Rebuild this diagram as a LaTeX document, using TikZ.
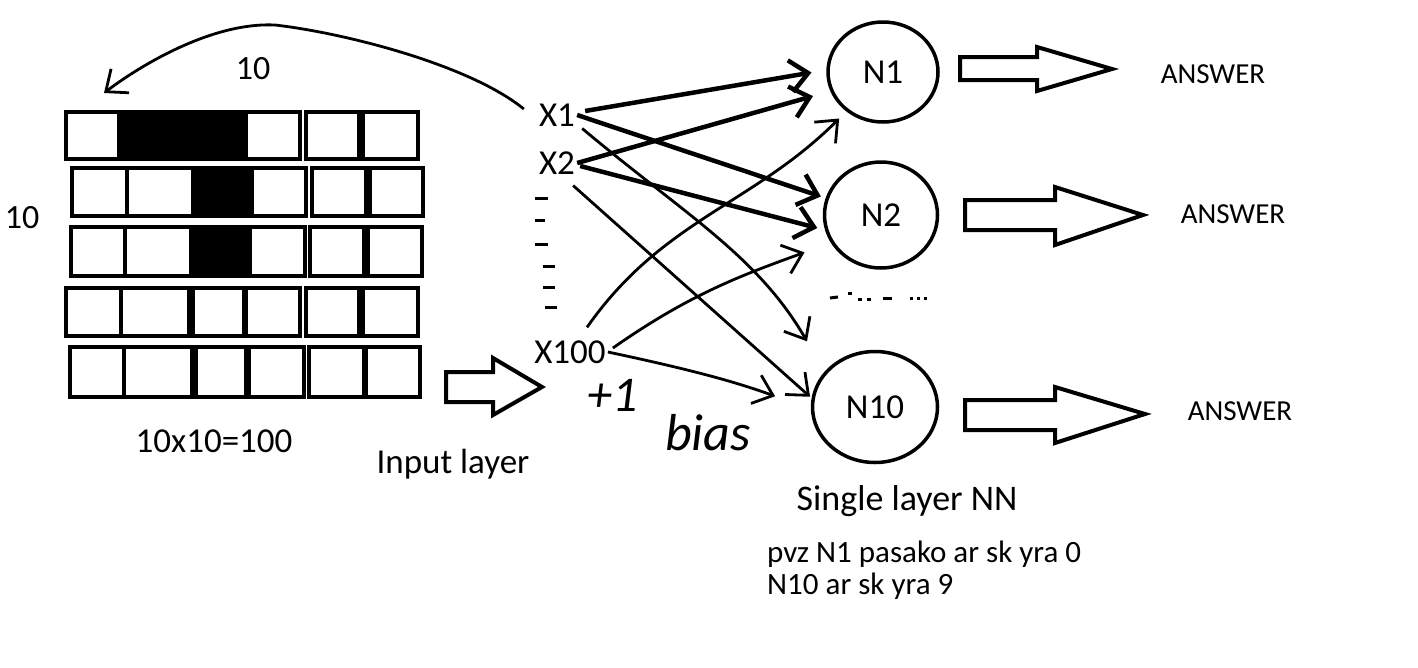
\documentclass[tikz,border=0pt]{standalone}
\usepackage{fontspec}
\setmainfont{Carlito}
\usetikzlibrary{arrows.meta,shapes.geometric,calc}

\begin{document}
\begin{tikzpicture}[x=1pt,y=-1pt,
    cell/.style={draw=black,line width=4.5pt},
    neuron/.style={ellipse,draw=black,line width=3.5pt,inner sep=0pt,font=\fontsize{35}{40}\selectfont},
    inp/.style={inner sep=2pt,font=\fontsize{35}{40}\selectfont},
    txt/.style={inner sep=0pt,anchor=base,font=\fontsize{35}{40}\selectfont},
    ans/.style={inner sep=0pt,anchor=base,font=\fontsize{29}{34}\selectfont},
    note/.style={inner sep=0pt,anchor=base west,font=\fontsize{31}{36}\selectfont},
    hand/.style={inner sep=0pt,anchor=base,font=\itshape\fontsize{50}{56}\selectfont},
    wire/.style={line width=4.5pt,-{Straight Barb[length=18pt,width=32pt]}},
    thinwire/.style={line width=2.8pt,-{Straight Barb[length=18pt,width=30pt]}},
    block/.style={draw=black,line width=4pt,line join=miter}]
  \useasboundingbox (0,0) rectangle (1418,667);

  % 10x10 picture (first rows)
  \foreach \l/\r/\f in {66/119/white,119/243/black,246/300/white,306/359/white,363/418/white}
    \draw[cell,fill=\f] (\l,112) rectangle (\r,159);
  \foreach \l/\r/\f in {72/127/white,127/193/white,193/249/black,252/306/white,312/366/white,370/423/white}
    \draw[cell,fill=\f] (\l,168) rectangle (\r,216);
  \foreach \l/\r/\f in {71/125/white,125/191/white,191/247/black,250/305/white,310/364/white,368/422/white}
    \draw[cell,fill=\f] (\l,227) rectangle (\r,276);
  \foreach \l/\r/\f in {66/121/white,121/189/white,193/244/white,246/300/white,306/359/white,363/418/white}
    \draw[cell,fill=\f] (\l,288) rectangle (\r,336);
  \foreach \l/\r/\f in {70/124/white,124/192/white,196/246/white,249/304/white,309/364/white,366/420/white}
    \draw[cell,fill=\f] (\l,347) rectangle (\r,397);

  \node[txt,font=\fontsize{34}{40}\selectfont] (toplbl) at (253,79) {10};
  \node[txt,font=\fontsize{34}{40}\selectfont] (sidelbl) at (22,228) {10};
  \node[txt] (sizelbl) at (214,452) {10x10=100};
  \node[txt] (inlbl) at (453,473) {Input layer};

  % input arrow
  \draw[block] (446,372) -- (493,372) -- (493,358) -- (542,387) -- (493,415) -- (493,402) -- (446,402) -- cycle;

  % inputs
  \node[inp] (X1) at (557,115) {X1};
  \node[inp] (X2) at (557,163) {X2};
  \node[inp] (X100) at (570,352) {X100};
  \foreach \xa/\xb/\yy in {535/548/198,535/545/220,535/548/244,543/555/266,543/555/287,545/557/307}
    \draw[line width=3pt] (\xa,\yy) -- (\xb,\yy);

  \node[hand] (plusone) at (613,411) {+1};
  \node[hand,font=\itshape\fontsize{52}{56}\selectfont] (bias) at (708,450) {bias};

  % neurons
  \node[neuron,minimum width=110pt,minimum height=100pt] (N1) at (883,72) {N1};
  \node[neuron,minimum width=113pt,minimum height=106pt] (N2) at (881,215) {N2};
  \node[neuron,minimum width=125pt,minimum height=111pt] (N10) at (875,407) {N10};
  \foreach \xa/\ya/\xb/\yb in {830/298/838/297,848/293/852/293,858/299/862/299,867/299/871/299,883/298/892/298,910/298/913/298,917/298/920/298,924/298/927/298}
    \draw[line width=3pt] (\xa,\ya) -- (\xb,\yb);

  % weights
  \draw[wire,shorten >=15pt] ($(X1.east)+(8,-4)$) -- (N1.178);
  \draw[wire,shorten >=18pt] (X2.east) -- (N1.200);
  \draw[wire,shorten >=5pt] (X1.east) -- (N2.163);
  \draw[wire,shorten >=8pt] ($(X2.east)+(3,3)$) -- (N2.195);
  \draw[thinwire,shorten >=10pt] ($(X100.north)+(17,-11)$) to[out=55,in=225] (N1.227);
  \draw[thinwire,shorten >=28pt] ($(X100.east)+(5,-4)$) to[out=35,in=200] (N2.209);
  \draw[thinwire,shorten >=38pt] (X100.east) to[out=-12,in=160] (N10.182);
  \draw[thinwire,shorten >=35pt] ($(X1.south east)+(5,0)$) to[out=-40,in=120] (N10.145);
  \draw[thinwire,shorten >=2pt] ($(X2.south east)+(-4,9)$) -- (N10.172);

  % back to the picture
  \coordinate (curltop) at (275,25);
  \coordinate (gridtop) at (104,93);
  \draw[thinwire] ($(X1.west)+(-13,-6)$) .. controls (470,65) and (345,33) .. (curltop)
    .. controls (215,22) and (145,62) .. (gridtop);

  % outputs
  \draw[block] (960,57) -- (1037,57) -- (1037,47) -- (1112,69) -- (1037,91) -- (1037,80) -- (960,80) -- cycle;
  \draw[block] (965,200) -- (1055,200) -- (1055,187) -- (1143,215) -- (1055,245) -- (1055,230) -- (965,230) -- cycle;
  \draw[block] (965,400) -- (1055,400) -- (1055,387) -- (1145,414) -- (1055,443) -- (1055,430) -- (965,430) -- cycle;
  \node[ans] (ans1) at (1213,83) {ANSWER};
  \node[ans] (ans2) at (1233,223) {ANSWER};
  \node[ans] (ans3) at (1240,420) {ANSWER};

  \node[txt,font=\fontsize{36}{40}\selectfont] (nnlbl) at (907,510) {Single layer NN};
  \node[note] (note1) at (767,562) {pvz N1 pasako ar sk yra 0};
  \node[note] (note2) at (767,594) {N10 ar sk yra 9};
\end{tikzpicture}
\end{document}
